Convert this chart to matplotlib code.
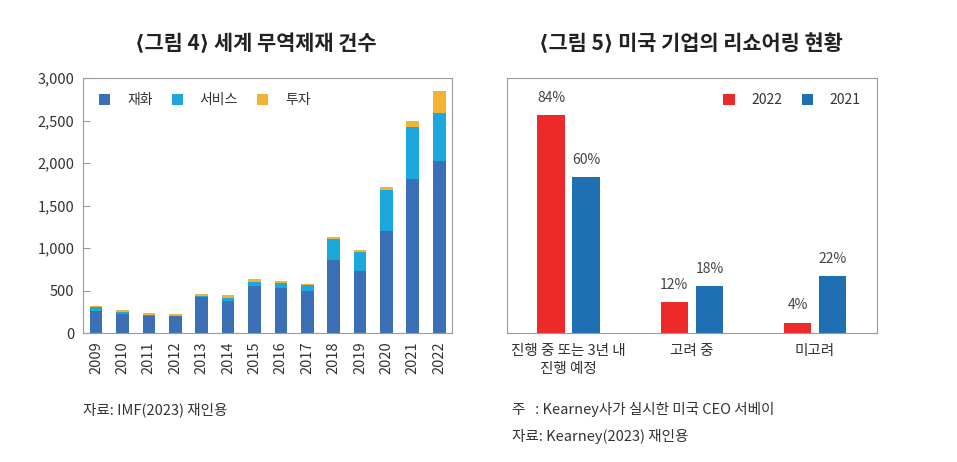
import matplotlib
matplotlib.use("Agg")
import matplotlib.pyplot as plt
import numpy as np

plt.rcParams['font.family'] = ['Noto Sans CJK KR', 'DejaVu Sans']

# 그림 4 data
years = ['2009', '2010', '2011', '2012', '2013', '2014', '2015', '2016',
         '2017', '2018', '2019', '2020', '2021', '2022']
goods = [265, 225, 205, 200, 420, 380, 555, 530, 500, 860, 730, 1200, 1810, 2020]
services = [40, 25, 12, 5, 20, 35, 50, 55, 65, 245, 225, 480, 620, 565]
invest = [15, 25, 20, 22, 25, 30, 35, 30, 15, 25, 25, 35, 60, 260]

# 그림 5 data
groups = ['진행 중 또는 3년 내\n진행 예정', '고려 중', '미고려']
v2022 = [84, 12, 4]
v2021 = [60, 18, 22]

c_goods, c_serv, c_inv = '#3b70b7', '#1da8dd', '#f2b233'
c_red, c_blue = '#ec2a2a', '#1f6fb3'
frame = '#9a9a9a'
txt = '#333333'

fig = plt.figure(figsize=(9.57, 4.62), dpi=100)

# ---- left chart
ax1 = fig.add_axes([0.0867, 0.279, 0.386, 0.552])
x = np.arange(len(years))
w = 0.48
ax1.bar(x, goods, w, color=c_goods, label='재화')
ax1.bar(x, services, w, bottom=goods, color=c_serv, label='서비스')
ax1.bar(x, invest, w, bottom=np.array(goods) + np.array(services), color=c_inv, label='투자')
ax1.set_xlim(-0.5, len(years) - 0.5)
ax1.set_ylim(0, 3000)
ax1.set_yticks(range(0, 3001, 500))
ax1.set_yticklabels([f'{v:,}' for v in range(0, 3001, 500)])
ax1.set_xticks(x)
ax1.set_xticklabels(years, rotation=90)
ax1.tick_params(axis='y', direction='in', length=5, color=frame, labelsize=10.5, labelcolor=txt, pad=6)
ax1.tick_params(axis='x', length=0, labelsize=10.5, labelcolor=txt, pad=6)
for s in ax1.spines.values():
    s.set_color(frame)
ax1.legend(loc='upper left', ncol=3, frameon=False, fontsize=10, handlelength=0.8,
           handleheight=0.8, columnspacing=1.4, handletextpad=1.2,
           bbox_to_anchor=(0.01, 0.99), labelcolor=txt)
fig.text(0.267, 0.905, '⟨그림 4⟩ 세계 무역제재 건수', ha='center', va='center',
         fontsize=15, fontweight='bold', color='#222222')

# ---- right chart
ax2 = fig.add_axes([0.530, 0.279, 0.386, 0.552])
g = np.arange(len(groups))
bw = 0.225
off = 0.1425
b1 = ax2.bar(g - off, v2022, bw, color=c_red, label='2022')
b2 = ax2.bar(g + off, v2021, bw, color=c_blue, label='2021')
for bars, vals in ((b1, v2022), (b2, v2021)):
    for b, v in zip(bars, vals):
        ax2.text(b.get_x() + b.get_width() / 2, v + 4, f'{v}%', ha='center', va='bottom',
                 fontsize=10, color='#444444')
ax2.set_xlim(-0.5, len(groups) - 0.5)
ax2.set_ylim(0, 98.3)
ax2.set_yticks([])
ax2.set_xticks(g)
ax2.set_xticklabels(groups, fontsize=10.5, color=txt, linespacing=1.3)
ax2.tick_params(axis='x', length=0, pad=8)
for s in ax2.spines.values():
    s.set_color(frame)
ax2.legend(loc='upper right', ncol=2, frameon=False, fontsize=10, handlelength=0.8,
           handleheight=0.8, columnspacing=1.4, handletextpad=1.2,
           bbox_to_anchor=(0.99, 0.99), labelcolor=txt)
fig.text(0.722, 0.905, '⟨그림 5⟩ 미국 기업의 리쇼어링 현황', ha='center', va='center',
         fontsize=15, fontweight='bold', color='#222222')

# ---- notes
fig.text(0.087, 0.113, '자료: IMF(2023) 재인용', ha='left', va='center', fontsize=10.5, color=txt)
fig.text(0.535, 0.113, '주   : Kearney사가 실시한 미국 CEO 서베이', ha='left', va='center',
         fontsize=10.5, color=txt)
fig.text(0.535, 0.055, '자료: Kearney(2023) 재인용', ha='left', va='center', fontsize=10.5, color=txt)

fig.savefig('out.png', dpi=100)
